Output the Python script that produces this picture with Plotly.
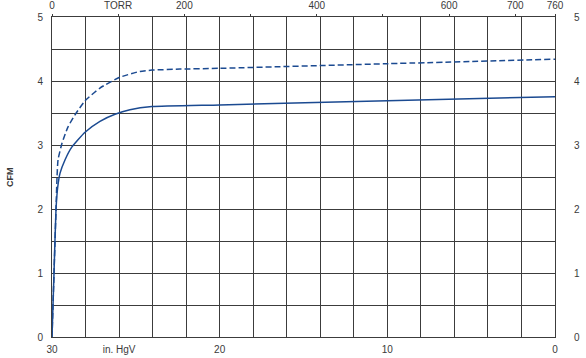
import plotly.graph_objects as go

# Vacuum (in. HgV) on bottom axis, CFM on y
inhg_solid = [30.0, 29.88, 29.76, 29.66, 29.52, 29.22, 28.81, 28.03, 27.14, 26.24, 25.35, 24.04, 20.0, 10.0, 0.0]
cfm_solid = [0.0, 1.0, 2.0, 2.34, 2.56, 2.77, 2.97, 3.2, 3.37, 3.48, 3.55, 3.6, 3.626, 3.69, 3.755]

inhg_dash = [30.0, 29.88, 29.76, 29.70, 29.64, 29.40, 29.05, 28.63, 28.03, 27.14, 25.94, 24.75, 24.04, 22.37, 20.0, 10.0, 0.0]
cfm_dash = [0.0, 1.0, 2.0, 2.5, 2.77, 3.03, 3.28, 3.47, 3.69, 3.89, 4.06, 4.15, 4.17, 4.186, 4.198, 4.27, 4.34]

bottom_ticks = [30, 26, 20, 10, 0]
bottom_text = ["30", "in. HgV", "20", "10", "0"]
top_ticks = [0, 100, 200, 300, 400, 500, 600, 700, 760]
top_text = ["0", "TORR", "200", "", "400", "", "600", "700", "760"]
y_ticks = [0, 1, 2, 3, 4, 5]

LINE = "#1b4a91"
GRID = "#3c3c3c"
TXT = "#3a3a3a"
FONT = "Liberation Sans Narrow, Liberation Sans, Arial"

fig = go.Figure()
fig.add_trace(go.Scatter(x=inhg_solid, y=cfm_solid, mode="lines",
                         line=dict(color=LINE, width=1.5, shape="spline", smoothing=0.5),
                         showlegend=False, hoverinfo="skip"))
fig.add_trace(go.Scatter(x=inhg_dash, y=cfm_dash, mode="lines",
                         line=dict(color=LINE, width=1.5, dash="6px,3px", shape="spline", smoothing=0.5),
                         showlegend=False, hoverinfo="skip"))
# invisible trace to anchor the top (torr) and right axes
fig.add_trace(go.Scatter(x=[0, 760], y=[0, 5], xaxis="x2", yaxis="y2", mode="markers",
                         marker=dict(opacity=0), showlegend=False, hoverinfo="skip"))

fig.update_layout(
    width=586, height=358,
    margin=dict(l=52, r=31, t=17, b=21, autoexpand=False),
    paper_bgcolor="white", plot_bgcolor="white",
    font=dict(family=FONT, size=10, color=TXT),
    xaxis=dict(range=[30, 0], tickvals=bottom_ticks, ticktext=bottom_text, automargin=False,
               showgrid=True, gridcolor=GRID, gridwidth=1,
               minor=dict(dtick=2, tick0=0, showgrid=True, gridcolor=GRID, gridwidth=1),
               showline=True, linecolor=GRID, linewidth=1, mirror=True,
               ticks="", zeroline=False, ticklabelstandoff=3, tickfont=dict(size=10)),
    xaxis2=dict(range=[0, 760], overlaying="x", side="top", anchor="y", automargin=False,
                tickvals=top_ticks, ticktext=top_text, showgrid=False,
                ticks="outside", ticklen=2, tickcolor=GRID, zeroline=False,
                ticklabelstandoff=1, tickfont=dict(size=10)),
    yaxis=dict(range=[0, 5], tickvals=y_ticks, showgrid=True, gridcolor=GRID, gridwidth=1, automargin=False,
               minor=dict(dtick=0.5, tick0=0, showgrid=True, gridcolor=GRID, gridwidth=1),
               showline=True, linecolor=GRID, linewidth=1, mirror=True,
               ticks="", zeroline=False, ticklabelstandoff=6, tickfont=dict(size=10)),
    yaxis2=dict(range=[0, 5], overlaying="y", side="right", anchor="x", automargin=False,
                tickvals=y_ticks, showgrid=False, zeroline=False, ticks="",
                ticklabelstandoff=18, tickfont=dict(size=10)),
    annotations=[dict(text="<b>CFM</b>", xref="paper", yref="paper",
                      x=-42 / 503, y=0.5, xanchor="center", yanchor="middle",
                      showarrow=False, textangle=-90,
                      font=dict(size=9, color=TXT, family=FONT))],
)

fig.write_html("out.html")
